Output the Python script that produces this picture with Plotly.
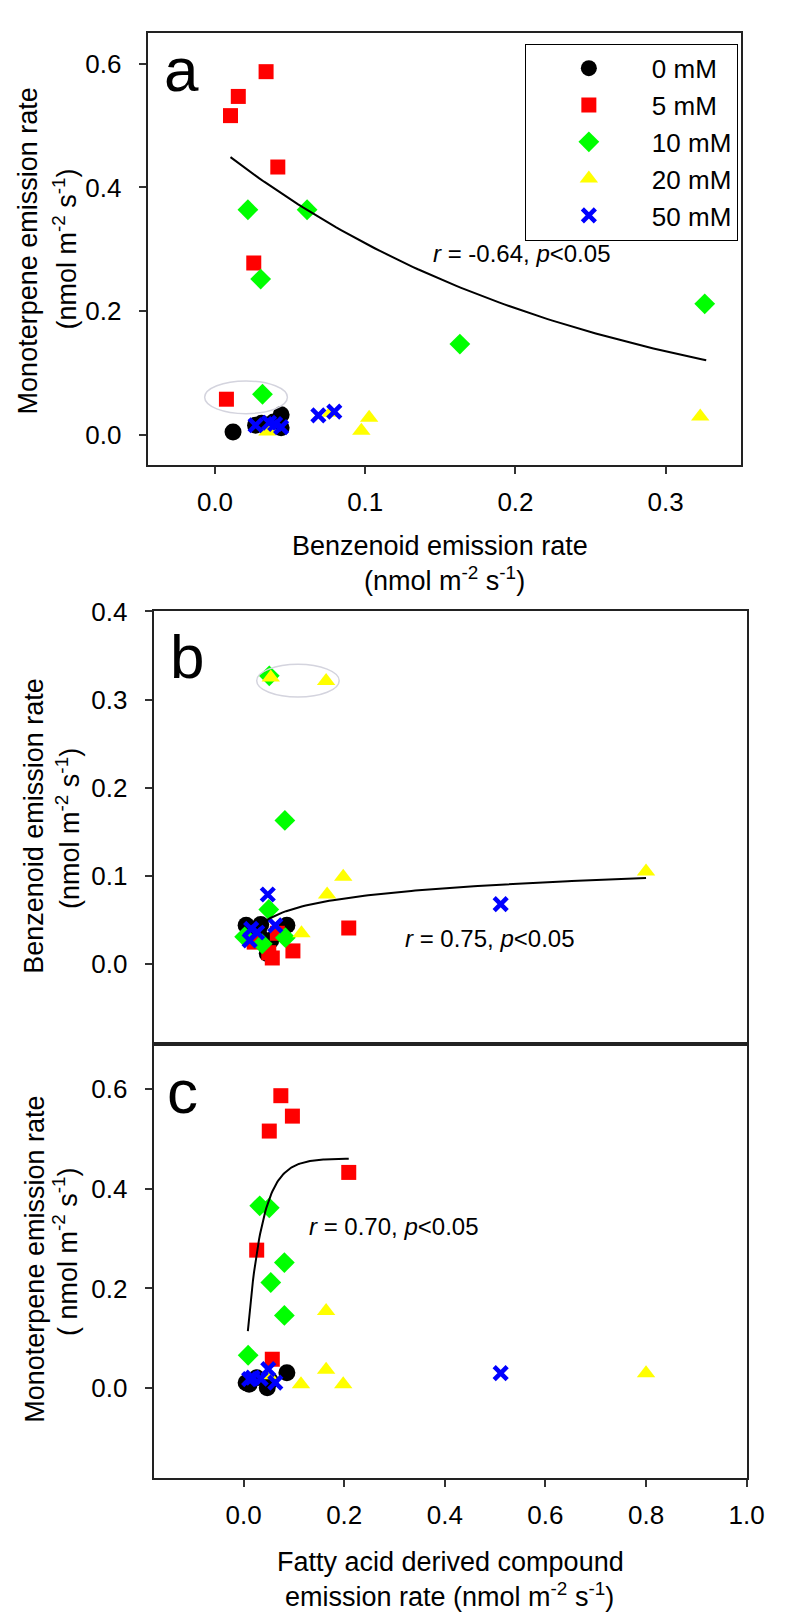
import numpy as np
import plotly.graph_objects as go

# page body has an 8px margin, so the figure is drawn 8px in from the corner
OFF = 8
W, H = 800 - 2 * OFF, 1624 - 2 * OFF
FONT = "Arial, Liberation Sans, sans-serif"

groups = ["0 mM", "5 mM", "10 mM", "20 mM", "50 mM"]
colors = ["#000000", "#ff0000", "#00ff00", "#ffff00", "#0000ff"]
symbols = ["circle", "square", "diamond", "triangle-up", "x-thin"]
sizes = [17, 15, 16, 16, 13]

# panel a: benzenoid (x) vs monoterpene (y)
a_x_0 = [0.012, 0.027, 0.044, 0.044, 0.039, 0.031]
a_y_0 = [0.005, 0.016, 0.033, 0.012, 0.021, 0.019]
a_x_5 = [0.034, 0.0155, 0.0103, 0.0418, 0.0258, 0.0076]
a_y_5 = [0.587, 0.547, 0.516, 0.433, 0.278, 0.058]
a_x_10 = [0.0219, 0.0613, 0.0304, 0.163, 0.326, 0.0316]
a_y_10 = [0.364, 0.364, 0.252, 0.147, 0.212, 0.066]
a_x_20 = [0.0349, 0.077, 0.1026, 0.0974, 0.323, 0.036]
a_y_20 = [0.006, 0.036, 0.028, 0.007, 0.030, 0.010]
a_x_50 = [0.0688, 0.0794, 0.027, 0.036, 0.040, 0.044]
a_y_50 = [0.032, 0.038, 0.016, 0.020, 0.018, 0.013]

# panel b: fatty acid derived (x) vs benzenoid (y)
b_x_0 = [0.005, 0.034, 0.086, 0.054, 0.047, 0.030]
b_y_0 = [0.044, 0.045, 0.044, 0.027, 0.012, 0.035]
b_x_5 = [0.209, 0.057, 0.098, 0.021, 0.067, 0.050]
b_y_5 = [0.041, 0.007, 0.015, 0.025, 0.035, 0.013]
b_x_10 = [0.051, 0.082, 0.050, 0.002, 0.037, 0.083]
b_y_10 = [0.327, 0.163, 0.062, 0.031, 0.023, 0.030]
b_x_20 = [0.054, 0.164, 0.198, 0.166, 0.115, 0.80]
b_y_20 = [0.325, 0.321, 0.099, 0.079, 0.035, 0.105]
b_x_50 = [0.048, 0.511, 0.015, 0.063, 0.012, 0.027]
b_y_50 = [0.079, 0.068, 0.040, 0.044, 0.027, 0.036]

# panel c: fatty acid derived (x) vs monoterpene (y)
c_x_0 = [0.005, 0.047, 0.086, 0.026, 0.053, 0.011]
c_y_0 = [0.011, 0.001, 0.031, 0.021, 0.015, 0.008]
c_x_5 = [0.074, 0.097, 0.051, 0.209, 0.026, 0.057]
c_y_5 = [0.587, 0.546, 0.516, 0.433, 0.277, 0.058]
c_x_10 = [0.032, 0.051, 0.081, 0.054, 0.081, 0.009]
c_y_10 = [0.366, 0.362, 0.252, 0.212, 0.146, 0.066]
c_x_20 = [0.164, 0.164, 0.114, 0.198, 0.80, 0.049]
c_y_20 = [0.155, 0.037, 0.008, 0.008, 0.030, 0.026]
c_x_50 = [0.511, 0.049, 0.063, 0.011, 0.018, 0.034]
c_y_50 = [0.030, 0.038, 0.011, 0.018, 0.021, 0.019]

# regression curves (parameters)
fit_a = dict(a=0.4686, b=4.14, x0=0.0103, x1=0.327)      # y = a*exp(-b x)
fit_b = dict(a=0.1015, b=0.01676, x0=0.03, x1=0.80)      # y = a + b ln x
fit_c = dict(a=0.461, b=34.0, x0=0.0084, x1=0.209)       # y = a(1-exp(-b x))

panels = {
    "a": ([a_x_0, a_x_5, a_x_10, a_x_20, a_x_50], [a_y_0, a_y_5, a_y_10, a_y_20, a_y_50]),
    "b": ([b_x_0, b_x_5, b_x_10, b_x_20, b_x_50], [b_y_0, b_y_5, b_y_10, b_y_20, b_y_50]),
    "c": ([c_x_0, c_x_5, c_x_10, c_x_20, c_x_50], [c_y_0, c_y_5, c_y_10, c_y_20, c_y_50]),
}
axref = {"a": ("x", "y"), "b": ("x2", "y2"), "c": ("x3", "y3")}

fig = go.Figure()
for p, (xs, ys) in panels.items():
    xr, yr = axref[p]
    for i, g in enumerate(groups):
        mk = dict(symbol=symbols[i], size=sizes[i], color=colors[i], line=dict(width=0))
        if symbols[i] == "x-thin":
            mk["line"] = dict(width=4.5, color=colors[i])
        fig.add_trace(go.Scatter(x=xs[i], y=ys[i], mode="markers", name=g, marker=mk,
                                 xaxis=xr, yaxis=yr, showlegend=(p == "a"), cliponaxis=False))

xa = np.linspace(fit_a["x0"], fit_a["x1"], 100)
fig.add_trace(go.Scatter(x=xa, y=fit_a["a"] * np.exp(-fit_a["b"] * xa), mode="lines",
                         line=dict(color="black", width=2), xaxis="x", yaxis="y", showlegend=False))
xb = np.linspace(fit_b["x0"], fit_b["x1"], 100)
fig.add_trace(go.Scatter(x=xb, y=fit_b["a"] + fit_b["b"] * np.log(xb), mode="lines",
                         line=dict(color="black", width=2), xaxis="x2", yaxis="y2", showlegend=False))
xc = np.linspace(fit_c["x0"], fit_c["x1"], 100)
fig.add_trace(go.Scatter(x=xc, y=fit_c["a"] * (1 - np.exp(-fit_c["b"] * xc)), mode="lines",
                         line=dict(color="black", width=2), xaxis="x3", yaxis="y3", showlegend=False))


def px_x(v):
    return (v - OFF) / W


def px_y(v):
    return 1 - (v - OFF) / H


ax_common = dict(showline=True, linecolor="#222", linewidth=2, mirror=True, ticks="outside",
                 ticklen=7, tickwidth=2, tickcolor="#333", showgrid=False, zeroline=False,
                 tickfont=dict(family=FONT, size=26, color="black"), tickformat=".1f")

fig.update_layout(
    width=W, height=H, margin=dict(l=0, r=0, t=0, b=0),
    paper_bgcolor="white", plot_bgcolor="white",
    font=dict(family=FONT, color="black"),
    xaxis=dict(ax_common, domain=[px_x(151), px_x(758)], range=[-0.0448, 0.350],
               tickvals=[0, 0.1, 0.2, 0.3], anchor="y", ticklabelstandoff=6),
    yaxis=dict(ax_common, domain=[px_y(454), px_y(18)], range=[-0.048, 0.6496],
               tickvals=[0, 0.2, 0.4, 0.6], anchor="x", ticklabelstandoff=12),
    xaxis2=dict(ax_common, domain=[px_x(157), px_x(764)], range=[-0.179, 1.0],
                showticklabels=False, ticks="", anchor="y2"),
    yaxis2=dict(ax_common, domain=[px_y(1039), px_y(602)], range=[-0.091, 0.4],
                tickvals=[0, 0.1, 0.2, 0.3, 0.4], anchor="x2", ticklabelstandoff=12),
    xaxis3=dict(ax_common, domain=[px_x(157), px_x(764)], range=[-0.179, 1.0],
                tickvals=[0, 0.2, 0.4, 0.6, 0.8, 1.0], anchor="y3", ticklabelstandoff=6),
    yaxis3=dict(ax_common, domain=[px_y(1477), px_y(1039)], range=[-0.181, 0.69],
                tickvals=[0, 0.2, 0.4, 0.6], anchor="x3", ticklabelstandoff=12),
    legend=dict(x=px_x(537), y=px_y(29), xanchor="left", yanchor="top",
                bordercolor="black", borderwidth=1, bgcolor="white",
                font=dict(family=FONT, size=26), itemwidth=116, tracegroupgap=0),
)

ann = []
# panel letters
ann.append(dict(text="a", x=-0.0354, y=0.590, xref="x", yref="y"))
ann.append(dict(text="b", x=-0.150, y=0.349, xref="x2", yref="y2"))
ann.append(dict(text="c", x=-0.156, y=0.596, xref="x3", yref="y3"))
for a_ in ann:
    a_.update(showarrow=False, xanchor="left", yanchor="middle", font=dict(family=FONT, size=62))

stats = [("<i>r</i> = -0.64, <i>p</i>&lt;0.05", 0.1438, 0.293, "x", "y"),
         ("<i>r</i> = 0.75, <i>p</i>&lt;0.05", 0.317, 0.029, "x2", "y2"),
         ("<i>r</i> = 0.70, <i>p</i>&lt;0.05", 0.1257, 0.3245, "x3", "y3")]
for t, x, y, xr, yr in stats:
    ann.append(dict(text=t, x=x, y=y, xref=xr, yref=yr, showarrow=False, xanchor="left",
                    yanchor="middle", font=dict(family=FONT, size=24)))

unit = "(nmol m<sup>-2</sup> s<sup>-1</sup>)"
titles = [
    ("Monoterpene emission rate", 28, 238, -90),
    (unit, 66, 236, -90),
    ("Benzenoid emission rate", 35, 818, -90),
    (unit, 70, 821, -90),
    ("Monoterpene emission rate", 36, 1256, -90),
    ("( nmol m<sup>-2</sup> s<sup>-1</sup>)", 67, 1248, -90),
    ("Benzenoid emission rate", 450, 536, 0),
    (unit, 455, 569, 0),
    ("Fatty acid derived compound", 461, 1561, 0),
    ("emission rate " + unit, 460, 1595, 0),
]
for t, x, y, ang in titles:
    ann.append(dict(text=t, x=px_x(x), y=px_y(y), xref="paper", yref="paper", showarrow=False,
                    xanchor="center", yanchor="middle", textangle=ang,
                    font=dict(family=FONT, size=27)))

fig.update_layout(annotations=ann)

# grey ellipses around highlighted points
fig.add_shape(type="circle", xref="x", yref="y", x0=-0.0069, x1=0.0482, y0=0.0347, y1=0.0875,
              line=dict(color="#d4d4de", width=1.5))
fig.add_shape(type="circle", xref="x2", yref="y2", x0=0.026, x1=0.19, y0=0.303, y1=0.340,
              line=dict(color="#d4d4de", width=1.5))

fig.write_html("out.html")
